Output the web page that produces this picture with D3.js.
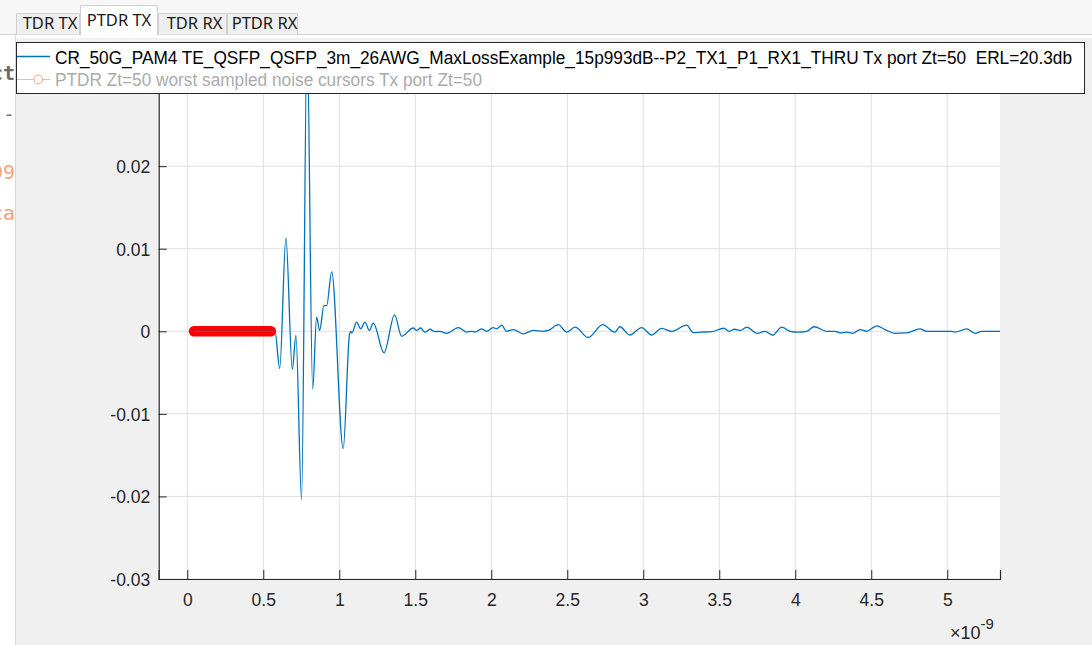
<!DOCTYPE html>
<html><head><meta charset="utf-8">
<script src="https://cdn.jsdelivr.net/npm/d3@7"></script>
<style>body{margin:0;background:#fff;overflow:hidden}svg{display:block}</style>
</head><body>
<svg id="c" width="1092" height="645"></svg>
<script>
// ---------- data ----------
const tabLabels = ["TDR TX", "PTDR TX", "TDR RX", "PTDR RX"];
const selectedTab = "PTDR TX";
const seriesNames = [
  "CR_50G_PAM4 TE_QSFP_QSFP_3m_26AWG_MaxLossExample_15p993dB--P2_TX1_P1_RX1_THRU Tx port Zt=50  ERL=20.3db",
  "PTDR Zt=50 worst sampled noise cursors Tx port Zt=50"
];
const xTickValues = [0, 0.5, 1, 1.5, 2, 2.5, 3, 3.5, 4, 4.5, 5];
const xTickLabels = ["0", "0.5", "1", "1.5", "2", "2.5", "3", "3.5", "4", "4.5", "5"];
const yTickValues = [-0.03, -0.02, -0.01, 0, 0.01, 0.02, 0.03];
const yTickLabels = ["-0.03", "-0.02", "-0.01", "0", "0.01", "0.02", ""]; // 0.03 label hidden by the legend
const xExponent = "-9";
// PTDR waveform: time (ns) and value
const ptdrTime = [0.04, 0.577, 0.608, 0.649, 0.691, 0.715, 0.752, 0.788, 0.825, 0.851, 0.871, 0.899, 0.917, 0.950,
  1.026, 1.067, 1.075, 1.083, 1.114, 1.141, 1.169, 1.198, 1.224, 1.294, 1.364, 1.410, 1.487, 1.509, 1.535,
  1.564, 1.597, 1.629, 1.662, 1.706, 1.783, 1.838, 1.871, 1.893, 1.936, 1.969, 2.013, 2.035, 2.068, 2.101,
  2.145, 2.211, 2.276, 2.342, 2.375, 2.441, 2.496, 2.551, 2.638, 2.733, 2.814, 2.846, 2.912, 2.989, 3.055,
  3.121, 3.187, 3.285, 3.329, 3.384, 3.450, 3.530, 3.565, 3.600, 3.641, 3.680, 3.750, 3.801, 3.852, 3.911,
  3.966, 4.020, 4.075, 4.125, 4.207, 4.261, 4.299, 4.338, 4.378, 4.426, 4.470, 4.536, 4.591, 4.656, 4.733,
  4.821, 4.865, 5.018, 5.051, 5.128, 5.182, 5.226, 5.347];
const ptdrValue = [0, 0, -0.0045, 0.0113, -0.0046, -0.0005, -0.0204, 0.036, -0.0070, 0.0017, 0.0001, 0.0031, 0.0031, 0.0072,
  -0.0142, -0.0004, 0.0000, -0.0002, 0.0011, 0.0003, 0.0011, 0.0001, 0.0010, -0.0026, 0.0020, -0.0006, 0.0004, 0.0001, 0.0004,
  -0.0001, 0.00025, -0.00005, 0.0000, -0.00025, 0.00045, -0.0001, 0.0000, -0.0001, 0.0003, 0.0000, 0.00045, 0.0003, 0.00075, 0.0000,
  0.0002, -0.0003, 0.0001, 0.0000, 0.0001, 0.0008, -0.0001, 0.0005, -0.00075, 0.0008, -0.0001, 0.00055, -0.00045, 0.00045, -0.00045,
  0.00035, 0.0000, 0.00075, -0.00015, -0.0001, -0.00005, 0.00037, 0.0000, 0.00025, 0.0001, 0.0005, -0.00025, 0.0000, -0.00045, 0.0005,
  0.0000, -0.0001, 0.0000, 0.00055, 0.0000, 0.0000, -0.0002, -0.0001, -0.00025, 0.0002, 0.0000, 0.00065, 0.0002, -0.00025, -0.0002,
  0.0003, 0.0000, 0.0000, -0.0001, 0.0003, -0.00025, 0.0000, 0.0000];
// worst sampled noise cursors: time (ns) and value
const cursorTime = [0.044, 0.064, 0.084, 0.104, 0.124, 0.144, 0.164, 0.184, 0.204, 0.224, 0.244, 0.264, 0.284,
  0.304, 0.324, 0.344, 0.364, 0.384, 0.404, 0.424, 0.444, 0.464, 0.484, 0.504, 0.524, 0.550];
const cursorValue = [0, 0, 0, 0, 0, 0, 0, 0, 0, 0, 0, 0, 0, 0, 0, 0, 0, 0, 0, 0, 0, 0, 0, 0, 0, 0];
// cut-off fragments of the panel behind
const backTexts = ["ct", "-", "99", "ca"];

// ---------- layout ----------
const L = {left: 158.7, right: 1000, top: 83.6, bottom: 579};
const svg = d3.select("#c");
const axisColor = "#262626";
const font = "'Liberation Sans', Arial, sans-serif";

// page background
svg.append("rect").attr("width", 1092).attr("height", 645).attr("fill", "#f7f7f7");
// figure panel
svg.append("rect").attr("x", 0).attr("y", 34.5).attr("width", 1092).attr("height", 611).attr("fill", "#fff");
svg.append("rect").attr("x", 16).attr("y", 38).attr("width", 1076).attr("height", 607).attr("fill", "#f0f0f0");
svg.append("line").attr("x1", 15.5).attr("x2", 15.5).attr("y1", 35).attr("y2", 645).attr("stroke", "#d7d7d7");
svg.append("line").attr("x1", 0).attr("x2", 1092).attr("y1", 34.5).attr("y2", 34.5).attr("stroke", "#d0d0d0");

// back fragments (clipped)
svg.append("clipPath").attr("id", "leftclip").append("rect").attr("x", 0).attr("y", 35).attr("width", 15).attr("height", 610);
const backG = svg.append("g").attr("clip-path", "url(#leftclip)");
const backStyle = [
  {y: 80, fill: "#6a6a6a", weight: "bold"},
  {y: 121, fill: "#7a8290", weight: "normal"},
  {y: 179, fill: "#f4a27a", weight: "normal"},
  {y: 220, fill: "#f4a27a", weight: "normal"}
];
backTexts.forEach((t, i) => {
  backG.append("text").attr("x", 15).attr("y", backStyle[i].y).attr("text-anchor", "end")
    .attr("font-family", "'DejaVu Sans Mono', monospace").attr("font-size", 20)
    .attr("font-weight", backStyle[i].weight).attr("fill", backStyle[i].fill).text(t);
});

// tabs
const tabGeom = [{x: 16, w: 64}, {x: 80, w: 78}, {x: 158, w: 69}, {x: 227, w: 71}];
tabLabels.forEach((t, i) => {
  const sel = t === selectedTab;
  const g = tabGeom[i];
  const top = sel ? 5.5 : 13.5;
  svg.append("path")
    .attr("d", `M${g.x + 0.5},${sel ? 35 : 34.5} V${top} H${g.x + g.w - 0.5} V${sel ? 35 : 34.5}`)
    .attr("fill", sel ? "#fff" : "#efefef").attr("stroke", "#d0d0d0");
  svg.append("text").attr("x", g.x + g.w / 2 + (sel ? 0 : 2)).attr("y", sel ? 26 : 28.5).attr("text-anchor", "middle")
    .attr("font-family", "'Noto Sans', 'Open Sans', sans-serif").attr("font-size", 16.5).attr("fill", "#1a1a1a").text(t);
});
svg.append("line").attr("x1", tabGeom[1].x + 1).attr("x2", tabGeom[1].x + tabGeom[1].w - 1).attr("y1", 34.5).attr("y2", 34.5).attr("stroke", "#fff").attr("stroke-width", 1.5);

// scales
const x = d3.scaleLinear().domain([-0.188, 5.347]).range([L.left, L.right]);
const y = d3.scaleLinear().domain([-0.03, 0.03]).range([L.bottom, L.top]);

// plot background
svg.append("rect").attr("x", L.left).attr("y", L.top).attr("width", L.right - L.left).attr("height", L.bottom - L.top).attr("fill", "#fff");

// grid
const grid = svg.append("g");
grid.selectAll(".gx").data(xTickValues).enter().append("line")
  .attr("x1", d => x(d)).attr("x2", d => x(d)).attr("y1", L.top).attr("y2", L.bottom)
  .attr("stroke", "#dfdfdf").attr("stroke-width", 1);
grid.selectAll(".gy").data(yTickValues).enter().append("line")
  .attr("x1", L.left).attr("x2", L.right).attr("y1", d => y(d)).attr("y2", d => y(d))
  .attr("stroke", "#dfdfdf").attr("stroke-width", 1);

// axes
const xAxis = d3.axisBottom(x).tickValues(xTickValues).tickSize(-9).tickPadding(14.5)
  .tickFormat((d, i) => xTickLabels[i]);
const gx = svg.append("g").attr("transform", `translate(0,${L.bottom})`).call(xAxis);
const yAxis = d3.axisLeft(y).tickValues(yTickValues).tickSize(-8).tickPadding(8.5)
  .tickFormat((d, i) => yTickLabels[i]);
const gy = svg.append("g").attr("transform", `translate(${L.left},0)`).call(yAxis);
[gx, gy].forEach(g => {
  g.select(".domain").attr("stroke", axisColor).attr("stroke-width", 1.2);
  g.selectAll(".tick line").attr("stroke", axisColor).attr("stroke-width", 1);
  g.selectAll(".tick text").attr("fill", axisColor).attr("font-family", font).attr("font-size", 17.5);
});
gy.selectAll(".tick text").attr("dy", "0.36em");

// exponent label
const expT = svg.append("text").attr("x", 950).attr("y", 639).attr("font-family", font).attr("font-size", 18).attr("fill", axisColor);
expT.append("tspan").text("\u00d710");
expT.append("tspan").attr("dy", -10).attr("font-size", 15).text(xExponent);

// clip
svg.append("clipPath").attr("id", "plotclip").append("rect")
  .attr("x", L.left).attr("y", L.top).attr("width", L.right - L.left).attr("height", L.bottom - L.top);
const plot = svg.append("g").attr("clip-path", "url(#plotclip)");

// cursors (red)
const cursorData = cursorTime.map((t, i) => [t, cursorValue[i]]);
plot.append("path").datum(cursorData)
  .attr("d", d3.line().x(d => x(d[0])).y(d => y(d[1])))
  .attr("fill", "none").attr("stroke", "#ff0000").attr("stroke-width", 10.5)
  .attr("stroke-linecap", "round").attr("stroke-linejoin", "round");

// waveform (blue)
const waveData = ptdrTime.map((t, i) => [t, ptdrValue[i]]);
plot.append("path").datum(waveData)
  .attr("d", d3.line().x(d => x(d[0])).y(d => y(d[1])).curve(d3.curveMonotoneX))
  .attr("fill", "none").attr("stroke", "#0072BD").attr("stroke-width", 1.3);

// legend
const lg = svg.append("g");
lg.append("rect").attr("x", 16.5).attr("y", 42.5).attr("width", 1068).attr("height", 51)
  .attr("fill", "#fff").attr("stroke", "#262626").attr("stroke-width", 1);
lg.append("line").attr("x1", 17).attr("x2", 50).attr("y1", 56.5).attr("y2", 56.5).attr("stroke", "#0072BD").attr("stroke-width", 1.3);
lg.append("text").attr("x", 55).attr("y", 63.5).attr("font-family", font).attr("font-size", 17.5)
  .style("white-space", "pre").attr("xml:space", "preserve")
  .attr("fill", "#000").attr("textLength", 1017).attr("lengthAdjust", "spacingAndGlyphs").text(seriesNames[0]);
lg.append("line").attr("x1", 17).attr("x2", 50).attr("y1", 79.5).attr("y2", 79.5).attr("stroke", "#f6b69c").attr("stroke-width", 1.2);
lg.append("circle").attr("cx", 38.3).attr("cy", 79.5).attr("r", 4.3).attr("fill", "#fff").attr("stroke", "#f6b69c").attr("stroke-width", 1.2);
lg.append("text").attr("x", 55).attr("y", 85.5).attr("font-family", font).attr("font-size", 17.5)
  .attr("fill", "#ababab").attr("textLength", 427).attr("lengthAdjust", "spacingAndGlyphs").text(seriesNames[1]);
</script>
</body></html>
